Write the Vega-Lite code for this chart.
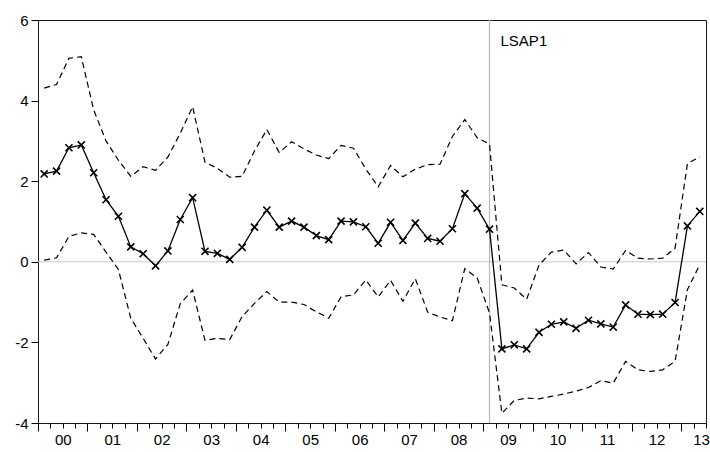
{
  "$schema": "https://vega.github.io/schema/vega-lite/v6.json",
  "width": 668,
  "height": 403,
  "autosize": "none",
  "padding": {"left": 38, "top": 20, "right": 4, "bottom": 29},
  "background": "white",
  "config": {
    "view": {"stroke": "#1a1a1a", "strokeWidth": 1},
    "font": "Liberation Sans",
    "axis": {"domain": false, "grid": false, "tickColor": "#000", "tickWidth": 1, "labelColor": "#000", "labelFont": "Liberation Sans", "labelFontSize": 15}
  },
  "datasets": {
    "events": [{"event": "LSAP1", "t": 2009.125}],
    "baseline": [{"level": 0}],
    "irf": [
    {"quarter": "2000Q1", "t": 2000.125, "estimate": 2.18, "upper": 4.31, "lower": 0.04},
    {"quarter": "2000Q2", "t": 2000.375, "estimate": 2.25, "upper": 4.40, "lower": 0.10},
    {"quarter": "2000Q3", "t": 2000.625, "estimate": 2.83, "upper": 5.05, "lower": 0.63},
    {"quarter": "2000Q4", "t": 2000.875, "estimate": 2.90, "upper": 5.09, "lower": 0.72},
    {"quarter": "2001Q1", "t": 2001.125, "estimate": 2.21, "upper": 3.77, "lower": 0.68},
    {"quarter": "2001Q2", "t": 2001.375, "estimate": 1.54, "upper": 3.00, "lower": 0.24},
    {"quarter": "2001Q3", "t": 2001.625, "estimate": 1.13, "upper": 2.52, "lower": -0.19},
    {"quarter": "2001Q4", "t": 2001.875, "estimate": 0.37, "upper": 2.12, "lower": -1.40},
    {"quarter": "2002Q1", "t": 2002.125, "estimate": 0.20, "upper": 2.36, "lower": -1.90},
    {"quarter": "2002Q2", "t": 2002.375, "estimate": -0.10, "upper": 2.27, "lower": -2.41},
    {"quarter": "2002Q3", "t": 2002.625, "estimate": 0.27, "upper": 2.60, "lower": -2.05},
    {"quarter": "2002Q4", "t": 2002.875, "estimate": 1.05, "upper": 3.19, "lower": -1.04},
    {"quarter": "2003Q1", "t": 2003.125, "estimate": 1.59, "upper": 3.85, "lower": -0.70},
    {"quarter": "2003Q2", "t": 2003.375, "estimate": 0.26, "upper": 2.47, "lower": -1.95},
    {"quarter": "2003Q3", "t": 2003.625, "estimate": 0.21, "upper": 2.32, "lower": -1.90},
    {"quarter": "2003Q4", "t": 2003.875, "estimate": 0.06, "upper": 2.10, "lower": -1.93},
    {"quarter": "2004Q1", "t": 2004.125, "estimate": 0.36, "upper": 2.12, "lower": -1.36},
    {"quarter": "2004Q2", "t": 2004.375, "estimate": 0.86, "upper": 2.75, "lower": -1.03},
    {"quarter": "2004Q3", "t": 2004.625, "estimate": 1.28, "upper": 3.28, "lower": -0.74},
    {"quarter": "2004Q4", "t": 2004.875, "estimate": 0.86, "upper": 2.71, "lower": -1.00},
    {"quarter": "2005Q1", "t": 2005.125, "estimate": 1.01, "upper": 2.98, "lower": -1.00},
    {"quarter": "2005Q2", "t": 2005.375, "estimate": 0.86, "upper": 2.80, "lower": -1.06},
    {"quarter": "2005Q3", "t": 2005.625, "estimate": 0.65, "upper": 2.65, "lower": -1.24},
    {"quarter": "2005Q4", "t": 2005.875, "estimate": 0.55, "upper": 2.56, "lower": -1.40},
    {"quarter": "2006Q1", "t": 2006.125, "estimate": 1.01, "upper": 2.89, "lower": -0.87},
    {"quarter": "2006Q2", "t": 2006.375, "estimate": 0.99, "upper": 2.82, "lower": -0.82},
    {"quarter": "2006Q3", "t": 2006.625, "estimate": 0.87, "upper": 2.30, "lower": -0.45},
    {"quarter": "2006Q4", "t": 2006.875, "estimate": 0.46, "upper": 1.86, "lower": -0.87},
    {"quarter": "2007Q1", "t": 2007.125, "estimate": 0.98, "upper": 2.39, "lower": -0.46},
    {"quarter": "2007Q2", "t": 2007.375, "estimate": 0.53, "upper": 2.11, "lower": -0.98},
    {"quarter": "2007Q3", "t": 2007.625, "estimate": 0.96, "upper": 2.30, "lower": -0.42},
    {"quarter": "2007Q4", "t": 2007.875, "estimate": 0.58, "upper": 2.41, "lower": -1.25},
    {"quarter": "2008Q1", "t": 2008.125, "estimate": 0.51, "upper": 2.42, "lower": -1.37},
    {"quarter": "2008Q2", "t": 2008.375, "estimate": 0.82, "upper": 3.11, "lower": -1.46},
    {"quarter": "2008Q3", "t": 2008.625, "estimate": 1.69, "upper": 3.53, "lower": -0.17},
    {"quarter": "2008Q4", "t": 2008.875, "estimate": 1.33, "upper": 3.08, "lower": -0.40},
    {"quarter": "2009Q1", "t": 2009.125, "estimate": 0.81, "upper": 2.92, "lower": -1.27},
    {"quarter": "2009Q2", "t": 2009.375, "estimate": -2.16, "upper": -0.57, "lower": -3.76},
    {"quarter": "2009Q3", "t": 2009.625, "estimate": -2.06, "upper": -0.65, "lower": -3.44},
    {"quarter": "2009Q4", "t": 2009.875, "estimate": -2.16, "upper": -0.93, "lower": -3.38},
    {"quarter": "2010Q1", "t": 2010.125, "estimate": -1.75, "upper": -0.08, "lower": -3.40},
    {"quarter": "2010Q2", "t": 2010.375, "estimate": -1.55, "upper": 0.24, "lower": -3.34},
    {"quarter": "2010Q3", "t": 2010.625, "estimate": -1.49, "upper": 0.29, "lower": -3.28},
    {"quarter": "2010Q4", "t": 2010.875, "estimate": -1.65, "upper": -0.05, "lower": -3.21},
    {"quarter": "2011Q1", "t": 2011.125, "estimate": -1.45, "upper": 0.23, "lower": -3.12},
    {"quarter": "2011Q2", "t": 2011.375, "estimate": -1.54, "upper": -0.13, "lower": -2.95},
    {"quarter": "2011Q3", "t": 2011.625, "estimate": -1.62, "upper": -0.18, "lower": -3.01},
    {"quarter": "2011Q4", "t": 2011.875, "estimate": -1.07, "upper": 0.28, "lower": -2.47},
    {"quarter": "2012Q1", "t": 2012.125, "estimate": -1.30, "upper": 0.09, "lower": -2.68},
    {"quarter": "2012Q2", "t": 2012.375, "estimate": -1.31, "upper": 0.07, "lower": -2.72},
    {"quarter": "2012Q3", "t": 2012.625, "estimate": -1.30, "upper": 0.09, "lower": -2.68},
    {"quarter": "2012Q4", "t": 2012.875, "estimate": -1.01, "upper": 0.34, "lower": -2.47},
    {"quarter": "2013Q1", "t": 2013.125, "estimate": 0.89, "upper": 2.44, "lower": -0.69},
    {"quarter": "2013Q2", "t": 2013.375, "estimate": 1.25, "upper": 2.60, "lower": -0.07}
    ]
  },
  "resolve": {"axis": {"x": "independent"}},
  "layer": [
    {
      "data": {"name": "baseline"},
      "mark": {"type": "rule", "color": "#c8c8c8", "strokeWidth": 1},
      "encoding": {
        "y": {"field": "level", "type": "quantitative", "scale": {"domain": [-4, 6], "nice": false, "zero": false}}
      }
    },
    {
      "data": {"name": "events"},
      "mark": {"type": "rule", "color": "#b8b8b8", "strokeWidth": 1.2},
      "encoding": {
        "x": {"field": "t", "type": "quantitative", "axis": null, "scale": {"domain": [2000, 2013.5], "nice": false, "zero": false}}
      }
    },
    {
      "data": {"name": "irf"},
      "mark": {"type": "line", "color": "#000", "strokeWidth": 1.2, "strokeDash": [6, 4]},
      "encoding": {
        "x": {"field": "t", "type": "quantitative", "title": null, "scale": {"domain": [2000, 2013.5], "nice": false, "zero": false},
              "axis": {"orient": "bottom", "values": [2000, 2001, 2002, 2003, 2004, 2005, 2006, 2007, 2008, 2009, 2010, 2011, 2012, 2013], "tickSize": 8, "labels": false}},
        "y": {"field": "upper", "type": "quantitative", "title": null, "scale": {"domain": [-4, 6], "nice": false, "zero": false},
              "axis": {"values": [-4, -2, 0, 2, 4, 6], "tickSize": 7, "labelPadding": 3, "title": null, "labelExpr": "toString(datum.value)"}}
      }
    },
    {
      "data": {"name": "irf"},
      "mark": {"type": "line", "color": "#000", "strokeWidth": 1.2, "strokeDash": [6, 4]},
      "encoding": {
        "x": {"field": "t", "type": "quantitative", "title": null, "scale": {"domain": [2000, 2013.5], "nice": false, "zero": false},
              "axis": {"orient": "bottom", "values": [2000, 2000.25, 2000.5, 2000.75, 2001, 2001.25, 2001.5, 2001.75, 2002, 2002.25, 2002.5, 2002.75, 2003, 2003.25, 2003.5, 2003.75, 2004, 2004.25, 2004.5, 2004.75, 2005, 2005.25, 2005.5, 2005.75, 2006, 2006.25, 2006.5, 2006.75, 2007, 2007.25, 2007.5, 2007.75, 2008, 2008.25, 2008.5, 2008.75, 2009, 2009.25, 2009.5, 2009.75, 2010, 2010.25, 2010.5, 2010.75, 2011, 2011.25, 2011.5, 2011.75, 2012, 2012.25, 2012.5, 2012.75, 2013, 2013.25, 2013.5], "tickSize": 5, "labels": false}},
        "y": {"field": "lower", "type": "quantitative", "title": null}
      }
    },
    {
      "data": {"name": "irf"},
      "mark": {"type": "line", "color": "#000", "strokeWidth": 1.3},
      "encoding": {
        "x": {"field": "t", "type": "quantitative", "title": null, "scale": {"domain": [2000, 2013.5], "nice": false, "zero": false},
              "axis": {"orient": "bottom", "values": [2000.5, 2001.5, 2002.5, 2003.5, 2004.5, 2005.5, 2006.5, 2007.5, 2008.5, 2009.5, 2010.5, 2011.5, 2012.5, 2013.4], "ticks": false, "labelPadding": 9, "labelOverlap": false, "labelFlush": false, "labelExpr": "format(floor(datum.value) % 100, '02d')"}},
        "y": {"field": "estimate", "type": "quantitative", "title": null}
      }
    },
    {
      "data": {"name": "irf"},
      "mark": {"type": "point", "shape": "M-1,-1L1,1M-1,1L1,-1", "filled": false, "stroke": "#000", "strokeWidth": 1.6, "size": 50, "opacity": 1},
      "encoding": {
        "x": {"field": "t", "type": "quantitative", "axis": null, "scale": {"domain": [2000, 2013.5], "nice": false, "zero": false}},
        "y": {"field": "estimate", "type": "quantitative", "title": null}
      }
    },
    {
      "data": {"name": "events"},
      "mark": {"type": "text", "align": "left", "baseline": "alphabetic", "dx": 11, "dy": 26, "fontSize": 15, "font": "Liberation Sans", "color": "#000"},
      "encoding": {
        "x": {"field": "t", "type": "quantitative", "axis": null, "scale": {"domain": [2000, 2013.5], "nice": false, "zero": false}},
        "y": {"datum": 6, "type": "quantitative"},
        "text": {"field": "event"}
      }
    }
  ]
}
